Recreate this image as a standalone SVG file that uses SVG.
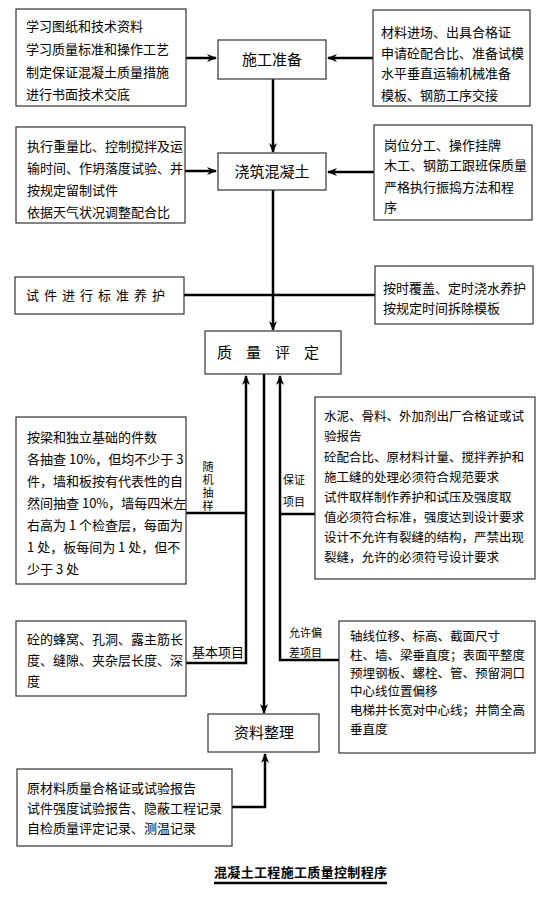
<svg xmlns="http://www.w3.org/2000/svg" width="554" height="898" viewBox="0 0 554 898">
<defs>
<marker id="ah" markerWidth="10" markerHeight="8" refX="9" refY="4" orient="auto" markerUnits="userSpaceOnUse">
<path d="M0,0 L10,4 L0,8 L3,4 Z" fill="#000"/>
</marker>
<style>
.box{fill:#fff;stroke:#333;stroke-width:1.2}
.t{font-family:"Noto Sans CJK SC","Liberation Sans",sans-serif;font-size:13px;fill:#000}
.s{font-size:12.5px}
.n{font-size:15px;text-anchor:middle}
.sm{font-size:11px}
.c{fill:none;stroke:#000;stroke-width:2.5}
</style>
</defs>
<g id="connectors">
<line class="c" x1="186" y1="58" x2="216" y2="58" marker-end="url(#ah)"/>
<line class="c" x1="373" y1="58" x2="328" y2="58" marker-end="url(#ah)"/>
<line class="c" x1="273" y1="79" x2="273" y2="152" marker-end="url(#ah)"/>
<line class="c" x1="185" y1="171" x2="216" y2="171" marker-end="url(#ah)"/>
<line class="c" x1="374" y1="172" x2="328" y2="172" marker-end="url(#ah)"/>
<line class="c" x1="273" y1="190" x2="273" y2="330" marker-end="url(#ah)"/>
<line class="c" x1="184" y1="295" x2="375" y2="295"/>
<polyline class="c" points="186,513 246,513"/>
<polyline class="c" points="186,663 246,663 246,376" marker-end="url(#ah)"/>
<polyline class="c" points="315,514 280,514"/>
<polyline class="c" points="339,660 280,660 280,376" marker-end="url(#ah)"/>
<line class="c" x1="264" y1="374" x2="264" y2="713" marker-end="url(#ah)"/>
<polyline class="c" points="232,807 265,807 265,754" marker-end="url(#ah)"/>
</g>
<g id="n1">
<rect class="box" x="16" y="9" width="170" height="97"/>
<text class="t" x="26" y="31">学习图纸和技术资料</text>
<text class="t" x="26" y="54">学习质量标准和操作工艺</text>
<text class="t" x="26" y="77">制定保证混凝土质量措施</text>
<text class="t" x="26" y="99">进行书面技术交底</text>
</g>
<g id="n2">
<rect class="box" x="373" y="10" width="157" height="96"/>
<text class="t" x="381" y="37">材料进场、出具合格证</text>
<text class="t" x="381" y="58">申请砼配合比、准备试模</text>
<text class="t" x="381" y="78">水平垂直运输机械准备</text>
<text class="t" x="381" y="100">模板、钢筋工序交接</text>
</g>
<g id="n3">
<rect class="box" x="218" y="40" width="108" height="39"/>
<text class="t n" x="272" y="65">施工准备</text>
</g>
<g id="n4">
<rect class="box" x="16" y="127" width="169" height="96"/>
<text class="t" x="27" y="151">执行重量比、控制搅拌及运</text>
<text class="t" x="27" y="173">输时间、作坍落度试验、并</text>
<text class="t" x="27" y="195">按规定留制试件</text>
<text class="t" x="27" y="217">依据天气状况调整配合比</text>
</g>
<g id="n5">
<rect class="box" x="218" y="153" width="108" height="37"/>
<text class="t n" x="272" y="177">浇筑混凝土</text>
</g>
<g id="n6">
<rect class="box" x="374" y="125" width="158" height="95"/>
<text class="t" x="384" y="150">岗位分工、操作挂牌</text>
<text class="t" x="384" y="170">木工、钢筋工跟班保质量</text>
<text class="t" x="384" y="192">严格执行振捣方法和程</text>
<text class="t" x="384" y="212">序</text>
</g>
<g id="n7">
<rect class="box" x="15" y="277" width="169" height="37"/>
<text class="t" x="26" y="300" letter-spacing="5">试件进行标准养护</text>
</g>
<g id="n8">
<rect class="box" x="375" y="266" width="158" height="58"/>
<text class="t" x="383" y="293">按时覆盖、定时浇水养护</text>
<text class="t" x="383" y="313">按规定时间拆除模板</text>
</g>
<g id="n9">
<rect class="box" x="205" y="331" width="136" height="43"/>
<text class="t n" x="275" y="358" letter-spacing="14">质量评定</text>
</g>
<g id="n10">
<rect class="box" x="16" y="417" width="170" height="167"/>
<text class="t" x="27" y="442">按梁和独立基础的件数</text>
<text class="t" x="27" y="464">各抽查 10%，但均不少于 3</text>
<text class="t" x="27" y="486">件，墙和板按有代表性的自</text>
<text class="t" x="27" y="508">然间抽查 10%，墙每四米左</text>
<text class="t" x="27" y="530">右高为 1 个检查层，每面为</text>
<text class="t" x="27" y="552">1 处，板每间为 1 处，但不</text>
<text class="t" x="27" y="574">少于 3 处</text>
</g>
<g id="lbl-random">
<text class="t sm" x="208" y="461" writing-mode="vertical-rl" letter-spacing="2">随机抽样</text>
</g>
<g id="n11">
<rect class="box" x="315" y="397" width="220" height="182"/>
<text class="t s" x="324" y="421">水泥、骨料、外加剂出厂合格证或试</text>
<text class="t s" x="324" y="441">验报告</text>
<text class="t s" x="324" y="462">砼配合比、原材料计量、搅拌养护和</text>
<text class="t s" x="324" y="482">施工缝的处理必须符合规范要求</text>
<text class="t s" x="324" y="502">试件取样制作养护和试压及强度取</text>
<text class="t s" x="324" y="522">值必须符合标准，强度达到设计要求</text>
<text class="t s" x="324" y="542">设计不允许有裂缝的结构，严禁出现</text>
<text class="t s" x="324" y="562">裂缝，允许的必须符号设计要求</text>
</g>
<g id="lbl-guarantee">
<text class="t sm" x="283" y="484">保证</text>
<text class="t sm" x="283" y="506">项目</text>
</g>
<g id="n12">
<rect class="box" x="16" y="621" width="170" height="75"/>
<text class="t" x="27" y="644">砼的蜂窝、孔洞、露主筋长</text>
<text class="t" x="27" y="665">度、缝隙、夹杂层长度、深</text>
<text class="t" x="27" y="686">度</text>
</g>
<g id="lbl-basic">
<text class="t" x="192" y="657" font-size="10.5">基本项目</text>
</g>
<g id="n13">
<rect class="box" x="339" y="621" width="196" height="132"/>
<text class="t s" x="350" y="641">轴线位移、标高、截面尺寸</text>
<text class="t s" x="350" y="660">柱、墙、梁垂直度；表面平整度</text>
<text class="t s" x="350" y="678">预埋钢板、螺栓、管、预留洞口</text>
<text class="t s" x="350" y="696">中心线位置偏移</text>
<text class="t s" x="350" y="715">电梯井长宽对中心线；井筒全高</text>
<text class="t s" x="350" y="734">垂直度</text>
</g>
<g id="lbl-tolerance">
<text class="t sm" x="289" y="637">允许偏</text>
<text class="t sm" x="289" y="657">差项目</text>
</g>
<g id="n14">
<rect class="box" x="208" y="714" width="111" height="38"/>
<text class="t n" x="264" y="738">资料整理</text>
</g>
<g id="n15">
<rect class="box" x="17" y="769" width="215" height="77"/>
<text class="t" x="27" y="793">原材料质量合格证或试验报告</text>
<text class="t" x="27" y="813">试件强度试验报告、隐蔽工程记录</text>
<text class="t" x="27" y="833">自检质量评定记录、测温记录</text>
</g>
<g id="title">
<text class="t" x="214" y="877" font-weight="bold" textLength="173">混凝土工程施工质量控制程序</text>
<line x1="214" y1="883" x2="387" y2="883" stroke="#000" stroke-width="2.5"/>
</g>
</svg>
